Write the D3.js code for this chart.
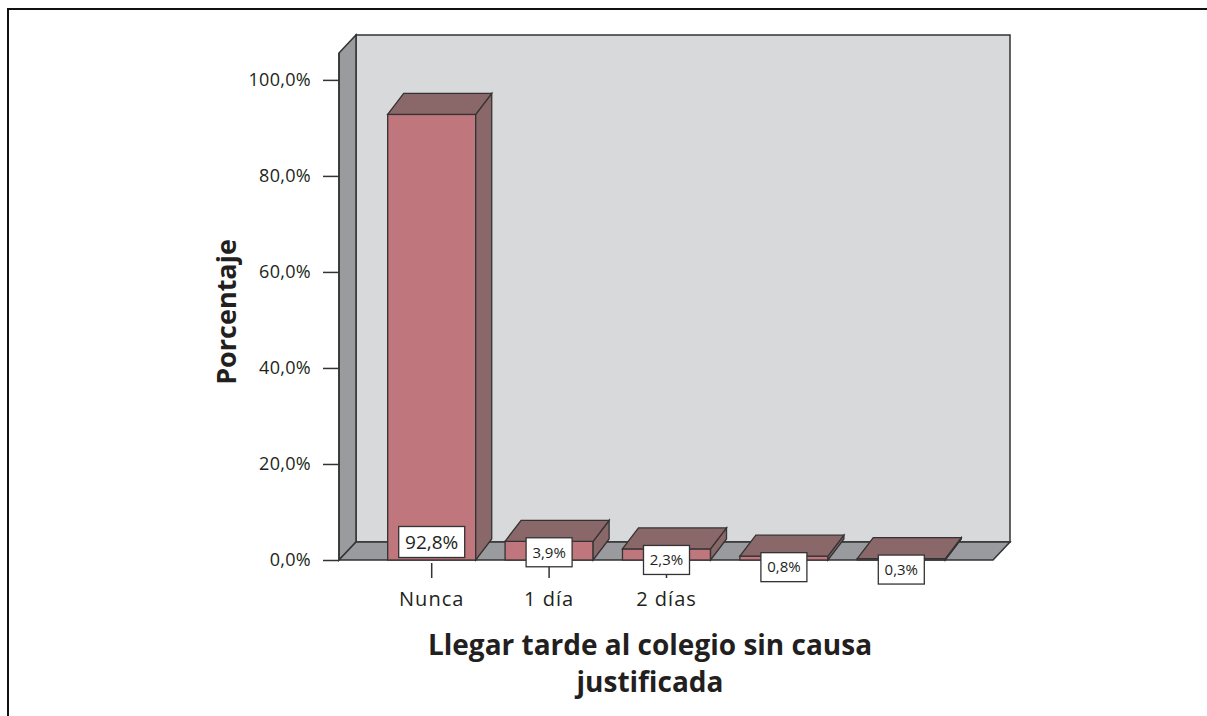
<!DOCTYPE html>
<html>
<head>
<meta charset="utf-8">
<script src="https://d3js.org/d3.v7.min.js"></script>
<style>
  body { margin: 0; background: #fff; }
  svg text { font-family: "Open Sans", "DejaVu Sans", sans-serif; fill: #231f20; }
</style>
</head>
<body>
<script>
// data
var categories = ["Nunca", "1 día", "2 días", "3 días", "4 o más"];
var tickLabels = ["Nunca", "1 día", "2 días", "", ""];
var values = [92.8, 3.9, 2.3, 0.8, 0.3];
var valueLabels = ["92,8%", "3,9%", "2,3%", "0,8%", "0,3%"];
var yTicks = [0, 20, 40, 60, 80, 100];

var w = 1207, h = 716;
var wallDx = 17, wallDy = -18;   // depth of the walls
var barDx = 16, barDy = -21;     // depth of the bars

var svg = d3.select("body").append("svg")
  .attr("width", w)
  .attr("height", h);

// outer frame (left + top only)
svg.append("path")
  .attr("d", "M8," + h + "V9H" + w)
  .attr("fill", "none")
  .attr("stroke", "#111")
  .attr("stroke-width", 2);

var x = d3.scaleBand()
  .domain(categories)
  .range([373, 960])
  .paddingInner(0.25)
  .paddingOuter(0.125);

var y = d3.scaleLinear()
  .domain([0, 105.6])
  .range([560, 53]);

var xLeft = 339, xRight = 993;
var y0 = y(0), yTop = y(105.6);

// back wall
svg.append("rect")
  .attr("x", xLeft + wallDx)
  .attr("y", yTop + wallDy)
  .attr("width", xRight - xLeft)
  .attr("height", y0 - yTop)
  .attr("fill", "#d8d9db")
  .attr("stroke", "#333")
  .attr("stroke-width", 1.5);

// left wall
svg.append("path")
  .attr("d", "M" + xLeft + "," + yTop + "L" + (xLeft + wallDx) + "," + (yTop + wallDy) +
    "L" + (xLeft + wallDx) + "," + (y0 + wallDy) + "L" + xLeft + "," + y0 + "Z")
  .attr("fill", "#9a9b9f")
  .attr("stroke", "#333")
  .attr("stroke-width", 1.5);

// floor
svg.append("path")
  .attr("d", "M" + xLeft + "," + y0 + "L" + (xLeft + wallDx) + "," + (y0 + wallDy) +
    "L" + (xRight + wallDx) + "," + (y0 + wallDy) + "L" + xRight + "," + y0 + "Z")
  .attr("fill", "#9a9b9f")
  .attr("stroke", "#333")
  .attr("stroke-width", 1.5);

// y axis
var yAxis = svg.append("g")
  .attr("transform", "translate(" + xLeft + ",0)")
  .call(d3.axisLeft(y)
    .tickValues(yTicks)
    .tickSize(16)
    .tickPadding(12)
    .tickFormat(function(d) { return d3.format(".1f")(d).replace(".", ",") + "%"; }));
yAxis.select(".domain")
  .attr("d", "M0," + yTop + "V" + y0)
  .attr("stroke", "#333")
  .attr("stroke-width", 1.5);
yAxis.selectAll(".tick line").attr("stroke", "#333").attr("stroke-width", 1.5);
yAxis.selectAll(".tick text")
  .attr("font-size", 18)
  .attr("fill", "#231f20")
  .style("letter-spacing", "0.3px")
  .style("font-family", '"Open Sans", sans-serif');

// x ticks
var xAxis = svg.append("g")
  .attr("transform", "translate(0," + (y0 + 3) + ")")
  .call(d3.axisBottom(x)
    .tickSize(15)
    .tickPadding(14)
    .tickFormat(function(d, i) { return tickLabels[i]; }));
xAxis.select(".domain").remove();
xAxis.selectAll(".tick line").attr("stroke", "#333").attr("stroke-width", 1.5);
xAxis.selectAll(".tick text")
  .attr("font-size", 20)
  .attr("fill", "#231f20")
  .style("letter-spacing", "1px")
  .style("font-family", '"Open Sans", sans-serif');

// bars
var bars = svg.append("g").selectAll("g")
  .data(values)
  .enter().append("g");

bars.append("rect")
  .attr("x", function(d, i) { return x(categories[i]); })
  .attr("y", function(d) { return y(d); })
  .attr("width", x.bandwidth())
  .attr("height", function(d) { return y0 - y(d); })
  .attr("fill", "#bf767c")
  .attr("stroke", "#333")
  .attr("stroke-width", 1.3);

// right side face
bars.append("path")
  .attr("d", function(d, i) {
    var bx = x(categories[i]) + x.bandwidth(), t = y(d);
    return "M" + bx + "," + t + "L" + (bx + barDx) + "," + (t + barDy) +
      "L" + (bx + barDx) + "," + (y0 + barDy) + "L" + bx + "," + y0 + "Z";
  })
  .attr("fill", "#8a6769")
  .attr("stroke", "#333")
  .attr("stroke-width", 1.3);

// top face
bars.append("path")
  .attr("d", function(d, i) {
    var bx = x(categories[i]), t = y(d), bw = x.bandwidth();
    return "M" + bx + "," + t + "L" + (bx + barDx) + "," + (t + barDy) +
      "L" + (bx + bw + barDx) + "," + (t + barDy) + "L" + (bx + bw) + "," + t + "Z";
  })
  .attr("fill", "#8a6769")
  .attr("stroke", "#333")
  .attr("stroke-width", 1.3);

// value labels in white boxes
function labelY(d) {
  return (y0 - y(d) > 40) ? y0 - 18 : y(d) + 11;
}
var labels = svg.append("g").selectAll("g")
  .data(values)
  .enter().append("g")
  .attr("transform", function(d, i) {
    return "translate(" + (x(categories[i]) + x.bandwidth() / 2) + "," + labelY(d) + ")";
  });

labels.append("rect")
  .attr("x", function(d, i) { return i == 0 ? -33 : -23; })
  .attr("y", function(d, i) { return i == 0 ? -15.5 : -14.5; })
  .attr("width", function(d, i) { return i == 0 ? 66 : 46; })
  .attr("height", function(d, i) { return i == 0 ? 31 : 29; })
  .attr("fill", "#fff")
  .attr("stroke", "#333")
  .attr("stroke-width", 1.3);

labels.append("text")
  .attr("text-anchor", "middle")
  .attr("dy", "0.35em")
  .attr("font-size", function(d, i) { return i == 0 ? 19 : 15; })
  .text(function(d, i) { return valueLabels[i]; });

// axis titles
svg.append("text")
  .attr("transform", "translate(236,312) rotate(-90)")
  .attr("text-anchor", "middle")
  .attr("font-size", 27)
  .attr("font-weight", "bold")
  .text("Porcentaje");

svg.append("text")
  .attr("x", 650)
  .attr("y", 655)
  .attr("text-anchor", "middle")
  .attr("font-size", 28)
  .attr("font-weight", "bold")
  .text("Llegar tarde al colegio sin causa");

svg.append("text")
  .attr("x", 650)
  .attr("y", 692)
  .attr("text-anchor", "middle")
  .attr("font-size", 28)
  .attr("font-weight", "bold")
  .text("justificada");
</script>
</body>
</html>
